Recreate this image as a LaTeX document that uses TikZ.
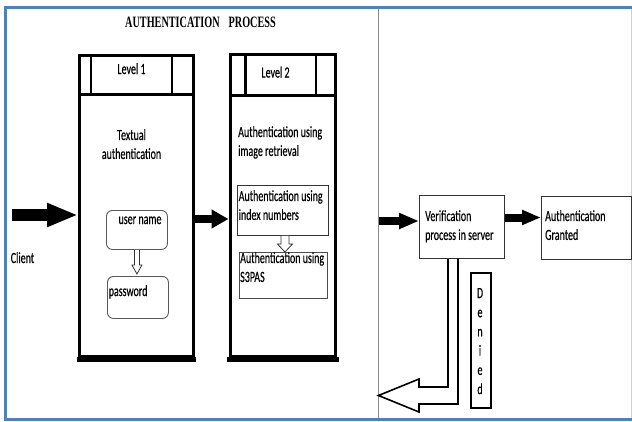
\documentclass[tikz,border=0pt]{standalone}
\usepackage{graphicx}
\usepackage{fontspec}
\setmainfont{Carlito}[FakeBold=0.5]
\newfontfamily\titlefont{Liberation Serif}
\usetikzlibrary{arrows.meta,calc}
\definecolor{frameblue}{RGB}{79,129,189}
\newcommand\vs[1]{\scalebox{1}[1.55]{#1}}
\begin{document}
\begin{tikzpicture}[x=1pt,y=-1pt,
  txt/.style={inner sep=0pt, font=\fontsize{10}{12.2}\selectfont},
  lvlbox/.style={draw, line width=3pt, inner sep=0pt},
  thinbox/.style={draw=black!80, line width=0.9pt, inner sep=0pt},
  softbox/.style={draw=black!65, line width=0.9pt, rounded corners=6pt, inner sep=0pt},
  hollowarrow/.style={draw=black!80, line width=0.8pt, fill=white, line join=miter},
  bigarrow/.style={line width=#1, draw=black}]
\useasboundingbox (0,0) rectangle (632,421);
% frame
\draw[frameblue, line width=3pt] (632,7.5) -- (5,7.5) -- (5,419.5) -- (632,419.5);
\draw[black!18, line width=1pt] (631.5,9) -- (631.5,418);
% divider
\coordinate (d1) at (378.5,9);
\coordinate (d2) at (378.5,418);
\draw[black!45, line width=1.5pt] (d1) -- (d2);
% title
\node[txt, anchor=base] (title) at (200.5,27) {\vs{\titlefont\bfseries\fontsize{10.2}{12}\selectfont AUTHENTICATION\hspace{9pt}PROCESS}};
% level 1
\node[lvlbox, minimum width=113.5pt, minimum height=301pt, anchor=north west] (L1) at (78,54) {};
\draw[line width=3.5pt] (L1.north west |- 0,94.7) -- (L1.north east |- 0,94.7);
\draw[line width=2.6pt] (91,54) -- (91,94.7) (172,54) -- (172,94.7);
\draw[line width=5pt] ($(L1.south west)+(-1.5,1)$) -- ($(L1.south east)+(1.5,1)$);
\node[txt, anchor=base] (lv1) at (131.5,74) {\vs{Level 1}};
\node[txt, anchor=base] (tx) at (131.5,140) {\vs{\begin{tabular}[t]{@{}c@{}}Textual\\authentication\end{tabular}}};
\node[softbox, minimum width=61pt, minimum height=39pt, anchor=north west] (U) at (106,210) {};
\node[txt, anchor=base] (ut) at (140,224) {\vs{user name}};
\node[softbox, minimum width=61pt, minimum height=42pt, anchor=north west] (P) at (107,276) {};
\node[txt, anchor=base west] (pt) at (108.5,296) {\vs{password}};
\draw[hollowarrow] ($(U.south)+(-2.5,0)$) -- ($(U.south |- P.north)+(-2.5,-11)$) -- ++(-2.5,0)
  -- ($(U.south |- P.north)+(0,-2)$) -- ($(U.south |- P.north)+(5,-11)$) -- ++(-2.5,0) -- ($(U.south)+(2.5,0)$);
% level 2
\node[lvlbox, minimum width=105.5pt, minimum height=302pt, anchor=north west] (L2) at (228.5,53) {};
\draw[line width=3.5pt] (L2.north west |- 0,95.5) -- (L2.north east |- 0,95.5);
\draw[line width=2.6pt] (245.5,53) -- (245.5,95.5) (316,53) -- (316,95.5);
\draw[line width=5pt] ($(L2.south west)+(-1.5,1)$) -- ($(L2.south east)+(1.5,1)$);
\node[txt, anchor=base] (lv2) at (275.5,77.5) {\vs{Level 2}};
\node[txt, anchor=base west] (ir) at (238,137) {\vs{\begin{tabular}[t]{@{}l@{}}Authentication using\\image retrieval\end{tabular}}};
\node[thinbox, minimum width=91pt, minimum height=50pt, anchor=north west] (I) at (237,185) {};
\node[txt, anchor=base west] (it) at (238.5,201) {\vs{\begin{tabular}[t]{@{}l@{}}Authentication using\\index numbers\end{tabular}}};
\node[thinbox, draw=black!70, minimum width=88pt, minimum height=46pt, anchor=north west] (S) at (239,252) {};
\node[txt, anchor=base west] (st) at (240,263) {\vs{\begin{tabular}[t]{@{}l@{}}Authentication using\\S3PAS\end{tabular}}};
\coordinate (ia) at ($(I.south)+(2,0)$);
\draw[hollowarrow] ($(ia)+(-4,0)$) -- ($(ia |- S.north)+(-4,-8)$) -- ++(-3.5,0)
  -- (ia |- S.north) -- ($(ia |- S.north)+(7.5,-8)$) -- ++(-3.5,0) -- ($(ia)+(4,0)$);
% client arrow
\node[txt, anchor=base] (cl) at (22.5,263) {\vs{Client}};
\coordinate (c0) at (12,215);
\draw[bigarrow=12pt, -{Triangle[length=31pt, width=22pt]}] (c0) -- (L1.west |- c0);
\coordinate (m0) at (192,219);
\draw[bigarrow=8.5pt, -{Triangle[length=17pt, width=18pt]}] (L1.east |- m0) -- (L2.west |- m0);
% right side
\node[thinbox, minimum width=85pt, minimum height=63pt, anchor=north west] (V) at (419,195) {};
\node[txt, anchor=base west] (vt) at (425,221) {\vs{\begin{tabular}[t]{@{}l@{}}Verification\\process in server\end{tabular}}};
\node[thinbox, minimum width=90pt, minimum height=63pt, anchor=north west] (G) at (541,196) {};
\node[txt, anchor=base west] (gt) at (545,221) {\vs{\begin{tabular}[t]{@{}l@{}}Authentication\\Granted\end{tabular}}};
\coordinate (a3) at (379,221);
\draw[bigarrow=8pt, -{Triangle[length=20pt, width=15pt]}] (a3) -- (V.west |- a3);
\coordinate (g0) at (504,217.5);
\draw[bigarrow=8pt, -{Triangle[length=19pt, width=14pt]}] (V.east |- g0) -- (G.west |- g0);
% denied
\node[draw, line width=2pt, inner sep=0pt, minimum width=20pt, minimum height=135pt, anchor=north west] (D) at (470,272) {};
\node[txt, anchor=base, font=\fontsize{10}{12.4}\selectfont] (dt) at (480,298) {\vs{\begin{tabular}[t]{@{}c@{}}D\\e\\n\\i\\e\\d\end{tabular}}};
\coordinate (r1) at ($(V.south west)+(29,0)$);
\coordinate (r2) at ($(V.south west)+(39,0)$);
\coordinate (rtip) at (378.5,395.5);
\draw[black, line width=1.6pt, line join=miter] (r1) -- (r1 |- 0,387) -- (419,387) -- (419,379) -- (rtip)
  -- (419,412) -- (419,404) -- (r2 |- 0,404) -- (r2);
\end{tikzpicture}
\end{document}
